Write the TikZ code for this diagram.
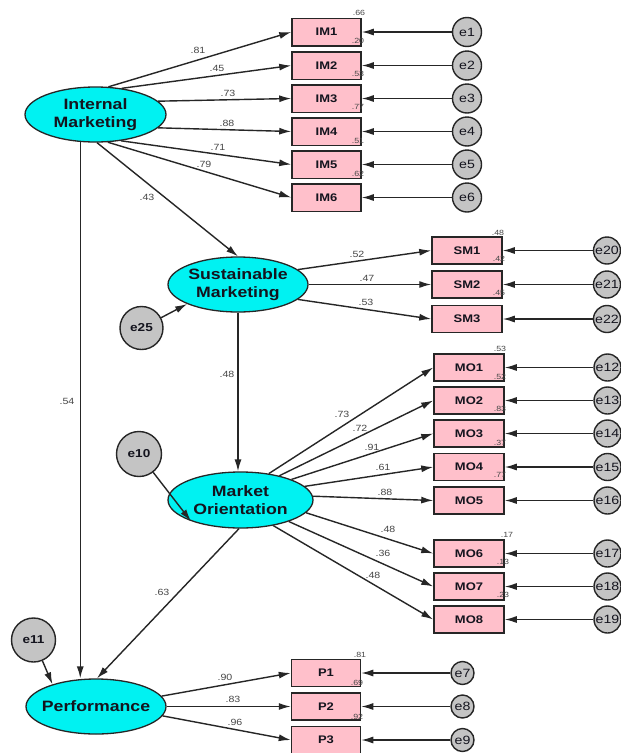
\documentclass[tikz,border=0pt]{standalone}
\usepackage{fontspec}
\setmainfont{Liberation Sans}[FakeStretch=1.18]
\usetikzlibrary{arrows.meta,shapes.geometric}
\definecolor{latfill}{RGB}{0,242,242}
\definecolor{obsfill}{RGB}{255,192,203}
\definecolor{errfill}{RGB}{196,196,196}
\definecolor{ln}{RGB}{38,38,38}
\definecolor{txt}{RGB}{20,20,30}
\tikzset{
  latent/.style={ellipse, draw=ln, line width=1.3pt, fill=latfill, inner sep=0pt, minimum width=140pt, minimum height=55pt},
  lattext/.style={font=\fontsize{15}{17.5}\selectfont\bfseries, align=center, text=txt, inner sep=0pt},
  obsbox/.style={rectangle, draw=ln, line width=1.5pt, fill=obsfill, minimum width=69pt, minimum height=27.5pt, inner sep=0pt, text=txt, font=\fontsize{11}{13}\selectfont\bfseries},
  errsmall/.style={circle, draw=ln, line width=1.4pt, fill=errfill, inner sep=0pt, minimum size=29pt, text=txt, font=\fontsize{12}{14}\selectfont},
  errlat/.style={circle, draw=ln, line width=1.4pt, fill=errfill, inner sep=0pt, minimum size=44pt, text=txt, font=\fontsize{11.5}{13}\selectfont\bfseries},
  arr/.style={draw=ln, line width=1.4pt, -{Latex[length=12pt,width=7pt]}},
  coef/.style={font=\fontsize{9}{10}\selectfont, text=black!72, inner sep=0pt},
  rsq/.style={font=\fontsize{7.5}{8}\selectfont, text=black!72, inner sep=0pt},
}
\begin{document}
\begin{tikzpicture}[x=1pt,y=-1pt]
\useasboundingbox[fill=white] (0,0) rectangle (621,753);

% latent variables
\node[latent, minimum width=141pt, label={[lattext]center:Internal\\Marketing}] (IM) at (95.5,114.5) {};
\node[latent, label={[lattext]center:Sustainable\\Marketing}] (SM) at (238,284.5) {};
\node[latent, minimum width=145pt, minimum height=56pt, label={[lattext]center:Market\\Orientation}] (MO) at (240.5,500) {};
\node[latent, label={[lattext]center:Performance}] (PF) at (96,706.5) {};

% latent error terms
\node[errlat, minimum size=43pt] (e25) at (141.5,328) {e25};
\node[errlat, minimum size=45pt] (e10) at (139,454) {e10};
\node[errlat] (e11) at (33.5,640) {e11};

% IM indicators
\foreach \i/\y in {1/32,2/65.5,3/98.5,4/131.5,5/164.5,6/197.5}{
  \node[obsbox] (IM\i) at (326.5,\y) {IM\i};
  \node[errsmall] (e\i) at (467,\y) {e\i};
  \draw[arr] (e\i) -- (IM\i.east);
}
% SM indicators
\foreach \i/\y/\e in {1/250.5/20,2/284.5/21,3/319/22}{
  \node[obsbox, minimum width=70pt, minimum height=27pt] (SM\i) at (467,\y) {SM\i};
  \node[errsmall, minimum size=27pt] (e\e) at (607,\y) {e\e};
  \draw[arr] (e\e) -- (SM\i.east);
}
% MO indicators
\foreach \i/\y/\e in {1/367.5/12,2/400.5/13,3/433.5/14,4/467/15,5/500.5/16,6/553.5/17,7/586.5/18,8/619.5/19}{
  \node[obsbox, minimum width=70pt, minimum height=27pt] (MO\i) at (469,\y) {MO\i};
  \node[errsmall, minimum size=27pt] (e\e) at (607.5,\y) {e\e};
  \draw[arr] (e\e) -- (MO\i.east);
}
% P indicators
\foreach \i/\y/\e in {1/673/7,2/706.5/8,3/740/9}{
  \node[obsbox, minimum height=27pt] (P\i) at (326,\y) {P\i};
  \node[errsmall, minimum size=23pt] (e\e) at (462.5,\y) {e\e};
  \draw[arr] (e\e) -- (P\i.east);
}

% loadings IM
\draw[arr] (IM.65.6) -- (IM1.west);
\draw[arr] (IM.45) -- (IM2.west);
\draw[arr] (IM.12) -- (IM3.west);
\draw[arr] (IM.-12) -- (IM4.west);
\draw[arr] (IM.-46) -- (IM5.west);
\draw[arr] (IM.-66) -- (IM6.west);
% loadings SM
\draw[arr] (SM.14) -- (SM1.west);
\draw[arr] (SM.0) -- (SM2.west);
\draw[arr] (SM.-14) -- (SM3.west);
% loadings MO
\draw[arr] (MO.43.5) -- (MO1.west);
\draw[arr] (MO.32.3) -- (MO2.west);
\draw[arr] (MO.22) -- (MO3.west);
\draw[arr] (MO.12.3) -- (MO4.west);
\draw[arr] (MO.3.4) -- (MO5.west);
\draw[arr] (MO.-11.7) -- (MO6.west);
\draw[arr] (MO.-24) -- (MO7.west);
\draw[arr] (MO.-38.4) -- (MO8.west);
% loadings P
\draw[arr] (PF.9.9) -- (P1.west);
\draw[arr] (PF.0) -- (P2.west);
\draw[arr] (PF.-8.9) -- (P3.west);

% structural paths
\draw[arr] (IM.-87) -- (SM.north);
\draw[arr] (IM.-119) -- (IM.-119 |- PF.north);
\draw[arr] (SM.south) -- (SM.south |- MO.north);
\draw[arr] (MO.-93) -- (PF.88);
\draw[arr] (e25) -- (SM.201);
\draw[arr] (e10) -- (MO.203);
\draw[arr] (e11) -- (PF.153);

% path coefficients
\node[coef] (c1) at (198,50) {.81};
\node[coef] (c2) at (217,68) {.45};
\node[coef] (c3) at (228,93) {.73};
\node[coef] (c4) at (227,123) {.88};
\node[coef] (c5) at (218,147) {.71};
\node[coef] (c6) at (204,164) {.79};
\node[coef] (c7) at (147,197) {.43};
\node[coef] (c8) at (67,401) {.54};
\node[coef] (c9) at (227,374) {.48};
\node[coef] (c10) at (162,592) {.63};
\node[coef] (c11) at (357,254) {.52};
\node[coef] (c12) at (367,278) {.47};
\node[coef] (c13) at (366,302) {.53};
\node[coef] (c14) at (342,414) {.73};
\node[coef] (c15) at (360,428) {.72};
\node[coef] (c16) at (372,447) {.91};
\node[coef] (c17) at (383,467) {.61};
\node[coef] (c18) at (385,492) {.88};
\node[coef] (c19) at (388,529) {.48};
\node[coef] (c20) at (383,553) {.36};
\node[coef] (c21) at (373,575) {.48};
\node[coef] (c22) at (225,677) {.90};
\node[coef] (c23) at (233,699) {.83};
\node[coef] (c24) at (235,722) {.96};

% squared multiple correlations
\node[rsq] (r1) at (359,13) {.66};
\node[rsq] (r2) at (358,41) {.20};
\node[rsq] (r3) at (358,74) {.53};
\node[rsq] (r4) at (358,107) {.77};
\node[rsq] (r5) at (358,141) {.51};
\node[rsq] (r6) at (358,174) {.62};
\node[rsq] (r7) at (498,233) {.48};
\node[rsq] (r8) at (499,259) {.42};
\node[rsq] (r9) at (499,293) {.45};
\node[rsq] (r10) at (500,349) {.53};
\node[rsq] (r11) at (500,377) {.52};
\node[rsq] (r12) at (500,409) {.83};
\node[rsq] (r13) at (500,443) {.37};
\node[rsq] (r14) at (500,475) {.77};
\node[rsq] (r15) at (507,535) {.17};
\node[rsq] (r16) at (503,562) {.13};
\node[rsq] (r17) at (503,595) {.23};
\node[rsq] (r18) at (360,655) {.81};
\node[rsq] (r19) at (357,683) {.69};
\node[rsq] (r20) at (357,717) {.92};
\end{tikzpicture}
\end{document}
